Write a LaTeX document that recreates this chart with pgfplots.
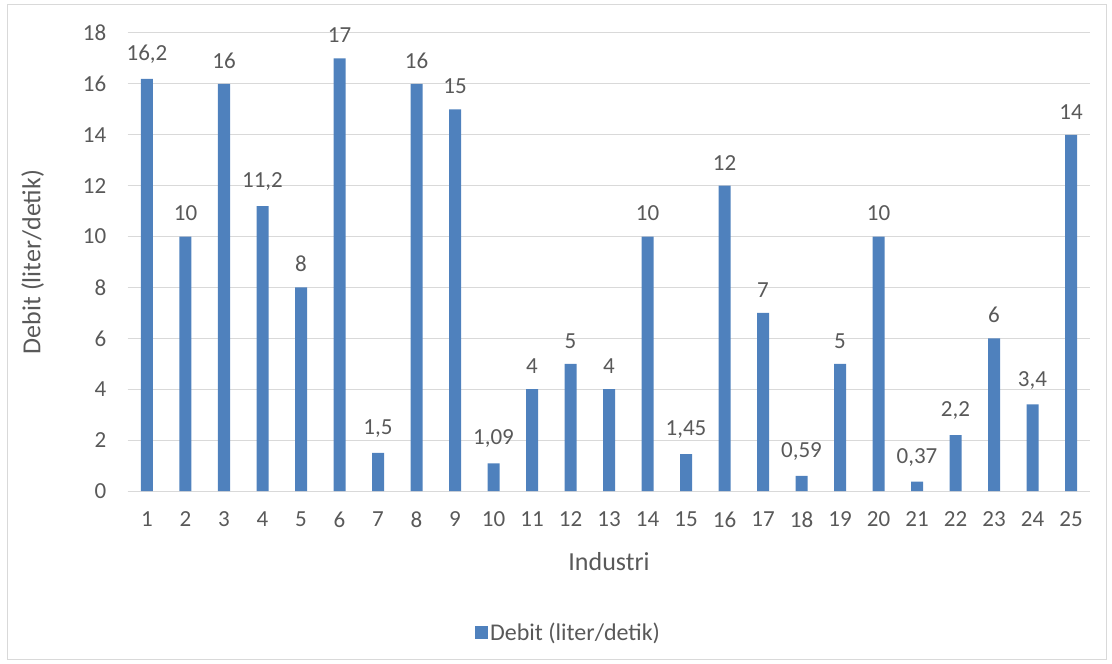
\documentclass[border=0pt]{standalone}
\usepackage{pgfplots}
\usepackage{pgfplotstable}
\pgfplotsset{compat=1.18}
\usepackage{fontspec}
\setmainfont{Carlito}
\definecolor{barblue}{HTML}{4F81BD}
\definecolor{txtgray}{HTML}{595959}
\definecolor{gridgray}{HTML}{D9D9D9}
\pgfplotstableread{
x y lab
1 16.2 {16,2}
2 10 10
3 16 16
4 11.2 {11,2}
5 8 8
6 17 17
7 1.5 {1,5}
8 16 16
9 15 15
10 1.09 {1,09}
11 4 4
12 5 5
13 4 4
14 10 10
15 1.45 {1,45}
16 12 12
17 7 7
18 0.59 {0,59}
19 5 5
20 10 10
21 0.37 {0,37}
22 2.2 {2,2}
23 6 6
24 3.4 {3,4}
25 14 14
}\datatable
\begin{document}
\begin{tikzpicture}
\useasboundingbox (-127.75bp,-173bp) rectangle (984.25bp,491bp);
\draw[gridgray, line width=1bp] (-119.75bp,-168bp) rectangle (978.25bp,486bp);
\begin{axis}[
  at={(0,0)}, anchor=south west,
  scale only axis,
  width=962.5bp, height=458bp,
  xmin=0.5, xmax=25.5, ymin=0, ymax=18,
  xtick={1,...,25}, ytick={0,2,...,18},
  major tick length=0pt,
  axis x line*=bottom, axis y line*=left,
  axis line style={gridgray, line width=1bp},
  x axis line style={-},
  y axis line style={draw=none},
  ymajorgrids, grid style={gridgray, line width=1bp},
  ticklabel style={font=\fontsize{23bp}{26bp}\selectfont, text=txtgray},
  /pgf/number format/assume math mode=true,
  xticklabel style={yshift=-17bp},
  yticklabel style={xshift=-18bp},
  xlabel={Industri}, ylabel={Debit (liter/detik)},
  label style={font=\fontsize{26bp}{30bp}\selectfont, text=txtgray},
  xlabel style={yshift=-18bp},
  ylabel style={yshift=32bp},
  legend style={at={(0.458,-0.308)}, anchor=center, draw=none, fill=none,
    font=\fontsize{24bp}{27bp}\selectfont, text=txtgray},
  legend image code/.code={\fill[barblue] (-7bp,-6.5bp) rectangle (6bp,6.5bp);},
  nodes near coords={\pgfplotspointmeta},
  point meta=explicit symbolic,
  every node near coord/.append style={font=\fontsize{23bp}{26bp}\selectfont, text=txtgray, yshift=12bp},
  clip=false,
]
\addplot[ybar, bar width=12bp, fill=barblue, draw=none] table[x=x, y=y, meta=lab] {\datatable};
\addlegendentry{Debit (liter/detik)}
\end{axis}
\end{tikzpicture}
\end{document}
